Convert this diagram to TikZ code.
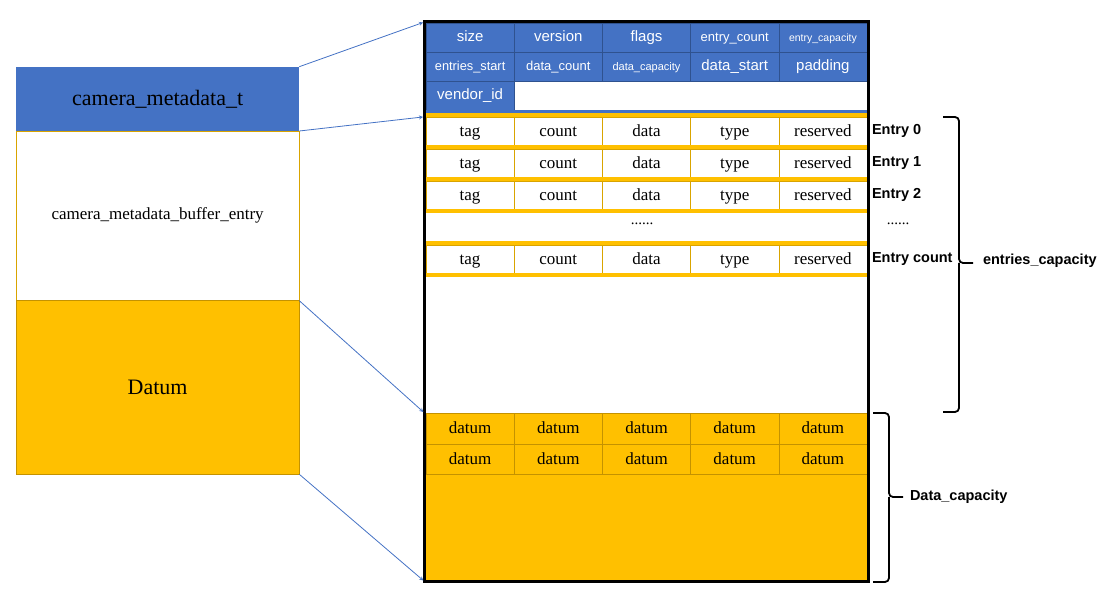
\documentclass[tikz,border=0pt]{standalone}
\usepackage{fontspec}
\setmainfont{Liberation Serif}
\setsansfont{Liberation Sans}
\usetikzlibrary{positioning}
\definecolor{metablue}{HTML}{4472C4}
\definecolor{metaedge}{HTML}{2F528F}
\definecolor{gold}{HTML}{FFC000}
\definecolor{goldedge}{HTML}{D9A400}
\definecolor{datumedge}{HTML}{C49200}

\begin{document}
\begin{tikzpicture}[x=1pt,y=-1pt,>=stealth,outer sep=0pt,inner sep=0pt,
    hdr/.style={draw=metaedge,fill=metablue,text=white,text height=11pt,text depth=3pt,minimum width=88.2pt,minimum height=29.2pt,anchor=north west},
    ent/.style={draw=goldedge,fill=white,font=\fontsize{17}{17}\selectfont,text height=13pt,text depth=2pt,minimum width=88.2pt,minimum height=28.4pt,anchor=north west},
    dat/.style={draw=datumedge,fill=gold,font=\fontsize{17}{17}\selectfont,text height=13pt,text depth=2pt,minimum width=88.2pt,minimum height=30.7pt,anchor=north west},
    part/.style={minimum width=283.3pt,font=\fontsize{22}{22}\selectfont},
    sep/.style={gold,line width=3.6pt},
    lbl/.style={font=\sffamily\bfseries\fontsize{14.5}{14.5}\selectfont,anchor=west},
    link/.style={->,metablue,line width=0.8pt,shorten >=1.5pt},
    brace/.style={line width=1.8pt,rounded corners=4pt}]
\useasboundingbox (0,0) rectangle (1104,596);
% left column
\node[part,fill=metablue,minimum height=64.3pt,anchor=north west] (meta) at (16,66.7) {camera\_metadata\_t};
\node[part,draw=goldedge,fill=white,minimum height=169.7pt,font=\fontsize{17}{17}\selectfont,below=0pt of meta] (entries) {camera\_metadata\_buffer\_entry};
\node[part,draw=datumedge,fill=gold,minimum height=173.6pt,below=0pt of entries] (data) {Datum};

% header
\foreach \lab/\sz [count=\i from 0] in {size/15,version/15,flags/15,entry\_count/13,entry\_capacity/10.5}
  \node[hdr,font=\sffamily\fontsize{\sz}{\sz}\selectfont] (h1-\i) at (426+88.2*\i,23) {\lab};
\foreach \lab/\sz [count=\i from 0] in {entries\_start/12.8,data\_count/13,data\_capacity/11,data\_start/15,padding/15}
  \node[hdr,font=\sffamily\fontsize{\sz}{\sz}\selectfont] (h2-\i) at (426+88.2*\i,52.2) {\lab};
\node[hdr,font=\sffamily\fontsize{15}{15}\selectfont] (h3-0) at (426,81.4) {vendor\_id};
\draw[metablue,line width=2.6pt] (426,111.8) -- (867,111.8);

% entries
\foreach \k/\r in {0/0,1/1,2/2,4/3}
  \foreach \lab [count=\i from 0] in {tag,count,data,type,reserved}
    \node[ent] (e\r-\i) at (426+88.2*\i,116.8+32*\k) {\lab};
\foreach \k in {0,...,5}
  \draw[sep] (426,115+32*\k) -- (867,115+32*\k);
\node[font=\fontsize{15}{15}\selectfont] (gap) at (642,224) {......};
\foreach \r/\lab in {0/Entry 0,1/Entry 1,2/Entry 2,3/Entry count}
  \node[lbl,right=5pt of e\r-4] (lab\r) {\lab};
\node[font=\fontsize{15}{15}\selectfont] (gapr) at (898,224) {......};

% data
\fill[gold] (426,413) rectangle (867,580);
\foreach \k in {0,1}
  \foreach \i in {0,...,4}
    \node[dat] (d\k-\i) at (426+88.2*\i,413+30.7*\k) {datum};

\node[draw,line width=3pt,minimum width=444pt,minimum height=559.5pt,anchor=north west] (buf) at (424.5,22) {};

\draw[link] (meta.north east) -- (buf.north west);
\draw[link] (meta.south east) -- (buf.west |- e0-0.north);
\draw[link] (data.north east) -- (buf.west |- d0-0.north);
\draw[link] (data.south east) -- (buf.south west);

% capacities
\draw[brace] (943,117) -| (959,263) -- (973,263);
\draw[brace] (959,263) |- (943,412);
\node[lbl] (entcap) at (983,261) {entries\_capacity};
\draw[brace] (873,413) -| (889,497) -- (903,497);
\draw[brace] (889,497) |- (873,582);
\node[lbl] (datcap) at (910,497) {Data\_capacity};
\end{tikzpicture}
\end{document}
